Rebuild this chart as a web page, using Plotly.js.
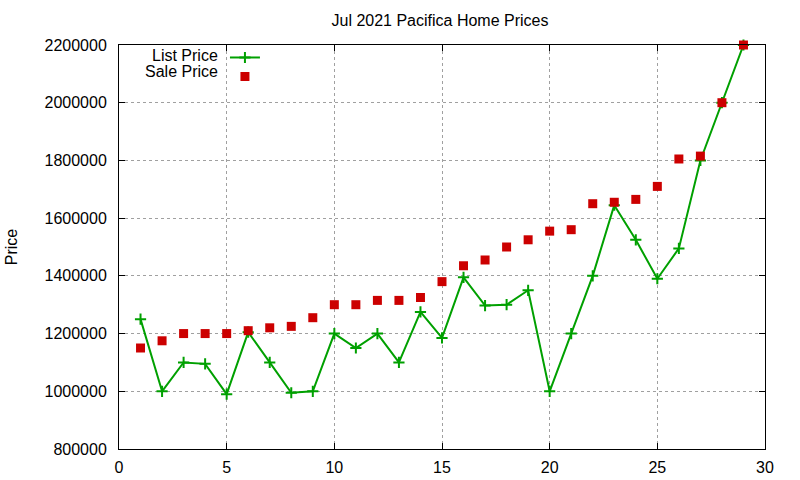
<!DOCTYPE html>
<html>
<head>
<meta charset="utf-8">
<script src="https://cdn.plot.ly/plotly-3.0.1.min.js"></script>
<style>html,body{margin:0;padding:0;background:#fff;}#chart{width:800px;height:480px;}</style>
</head>
<body>
<div id="chart"></div>
<script>
const homeIndex = [1,2,3,4,5,6,7,8,9,10,11,12,13,14,15,16,17,18,19,20,21,22,23,24,25,26,27,28,29];
const listPrice = [1250000,1000000,1100000,1095000,990000,1205000,1100000,995000,1000000,1200000,
                   1150000,1200000,1100000,1275000,1185000,1395000,1297000,1300000,1350000,1000000,
                   1200000,1400000,1645000,1525000,1390000,1495000,1800000,2000000,2200000];
const salePrice = [1150000,1175000,1200000,1200000,1200000,1210000,1220000,1225000,1255000,1300000,
                   1300000,1315000,1315000,1325000,1380000,1435000,1455000,1500000,1525000,1555000,
                   1560000,1650000,1655000,1665000,1710000,1805000,1815000,2000000,2200000];
const seriesNames = ["List Price", "Sale Price"];
const chartTitle = "Jul 2021 Pacifica Home Prices";
const yTitle = "Price";

const FONT = "Liberation Sans, Arial, sans-serif";

const traces = [
  {
    x: homeIndex, y: listPrice, type: "scatter", mode: "lines+markers", name: " ",
    line: {color: "#00a000", width: 2},
    marker: {symbol: "cross-thin-open", size: 8, color: "#00a000", line: {color: "#00a000", width: 2}},
    cliponaxis: false
  },
  {
    x: homeIndex, y: salePrice, type: "scatter", mode: "markers", name: " ",
    marker: {symbol: "square", size: 9, color: "#cc0000"},
    cliponaxis: false
  }
];

const axisCommon = {
  showline: true, linecolor: "#000", linewidth: 1, mirror: "ticks",
  ticks: "inside", ticklen: 6, tickcolor: "#000", tickwidth: 1,
  showgrid: true, gridcolor: "#a0a0a0", griddash: "dot", gridwidth: 1,
  zeroline: false,
  tickfont: {family: FONT, size: 16, color: "#000"}
};

const layout = {
  width: 800, height: 480,
  margin: {l: 119, r: 35, t: 45, b: 31, pad: 0},
  paper_bgcolor: "#fff", plot_bgcolor: "#fff",
  font: {family: FONT, color: "#000"},
  title: {text: chartTitle, font: {family: FONT, size: 16, color: "#000"},
          x: 0.55, xanchor: "center", y: 0.958, yanchor: "middle"},
  xaxis: Object.assign({}, axisCommon, {range: [0, 30], dtick: 5, tick0: 0, ticklabelstandoff: 4}),
  yaxis: Object.assign({}, axisCommon, {range: [800000, 2200000], dtick: 200000, tick0: 800000,
          tickformat: "d", ticklabelstandoff: 8,
          title: {text: yTitle, font: {family: FONT, size: 16, color: "#000"}, standoff: 22}}),
  showlegend: true,
  legend: {x: 0.164, y: 1.005, xanchor: "left", yanchor: "top", bgcolor: "rgba(0,0,0,0)",
           font: {family: FONT, size: 12}, itemwidth: 30, tracegroupgap: 0},
  annotations: [
    {xref: "paper", yref: "paper", x: 0.157, y: 0.975, xanchor: "right", yanchor: "middle",
     text: seriesNames[0], showarrow: false, font: {family: FONT, size: 16, color: "#000"}},
    {xref: "paper", yref: "paper", x: 0.157, y: 0.935, xanchor: "right", yanchor: "middle",
     text: seriesNames[1], showarrow: false, font: {family: FONT, size: 16, color: "#000"}}
  ]
};

Plotly.newPlot("chart", traces, layout, {displayModeBar: false, staticPlot: true});
</script>
</body>
</html>
